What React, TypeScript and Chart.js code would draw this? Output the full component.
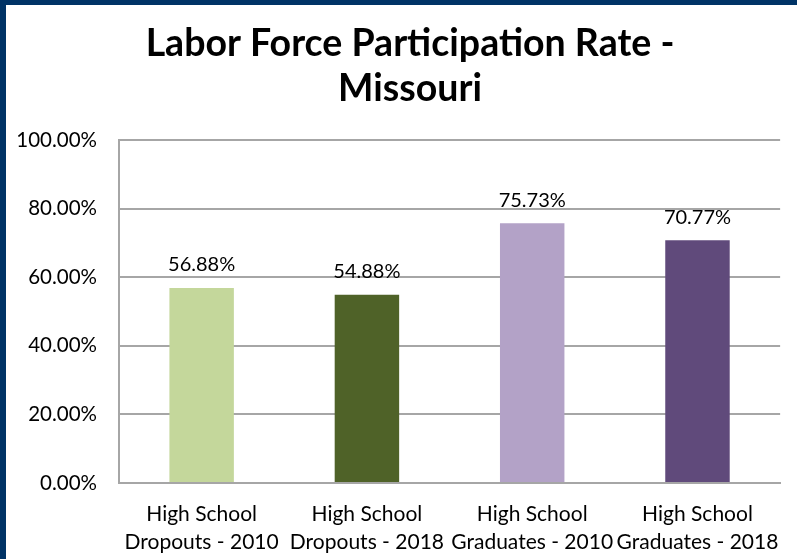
import React, { useEffect, useRef } from "react";
import { Chart, registerables } from "chart.js";

Chart.register(...registerables);

const categories: string[][] = [
  ["High School", "Dropouts - 2010"],
  ["High School", "Dropouts - 2018"],
  ["High School", "Graduates - 2010"],
  ["High School", "Graduates - 2018"],
];
const values: number[] = [56.88, 54.88, 75.73, 70.77];
const barColors: string[] = ["#C4D79B", "#4F6228", "#B3A2C7", "#604A7B"];
const titleLines: string[] = ["Labor Force Participation Rate -", "Missouri"];

const FONT = "Lato";

const valueLabels = {
  id: "valueLabels",
  afterDatasetsDraw(chart: any) {
    const ctx = chart.ctx;
    const meta = chart.getDatasetMeta(0);
    ctx.save();
    ctx.font = `20px ${FONT}`;
    ctx.fillStyle = "#000";
    ctx.textAlign = "center";
    ctx.textBaseline = "middle";
    meta.data.forEach((bar: any, i: number) => {
      ctx.fillText(values[i].toFixed(2) + "%", bar.x, bar.y - 23);
    });
    ctx.restore();
  },
};

const chartTitle = {
  id: "chartTitle",
  afterDraw(chart: any) {
    const ctx = chart.ctx;
    ctx.save();
    ctx.font = `bold 37.5px ${FONT}`;
    ctx.fillStyle = "#000";
    ctx.textAlign = "center";
    ctx.textBaseline = "middle";
    titleLines.forEach((line, i) => {
      ctx.fillText(line, 410, 44 + i * 45);
    });
    ctx.restore();
  },
};

export default function App() {
  const ref = useRef<HTMLCanvasElement>(null);
  useEffect(() => {
    const chart = new Chart(ref.current!, {
      type: "bar",
      data: {
        labels: categories,
        datasets: [
          {
            data: values,
            backgroundColor: barColors,
            barPercentage: 0.39,
            categoryPercentage: 1,
          },
        ],
      },
      options: {
        responsive: false,
        animation: false,
        layout: { padding: { left: 5, right: 5, top: 140, bottom: 0 } },
        plugins: {
          legend: { display: false },
          tooltip: { enabled: false },
          title: { display: false },
        },
        scales: {
          x: {
            grid: { display: false, drawTicks: false },
            border: { display: true, color: "#A6A6A6", width: 2 },
            ticks: {
              color: "#000",
              font: { family: FONT, size: 21, lineHeight: 1.3 },
              padding: 18,
              maxRotation: 0,
              autoSkip: false,
            },
            afterFit: (s: any) => {
              s.height = 76;
            },
          },
          y: {
            min: 0,
            max: 100,
            grid: { color: "#A6A6A6", lineWidth: 2, drawTicks: false },
            border: { display: true, color: "#A6A6A6", width: 2 },
            ticks: {
              stepSize: 20,
              color: "#000",
              font: { family: FONT, size: 20.5 },
              padding: 22,
              callback: (v: any) => Number(v).toFixed(2) + "%",
            },
            afterFit: (s: any) => {
              s.width = 114;
            },
          },
        },
      },
      plugins: [valueLabels, chartTitle],
    });
    return () => chart.destroy();
  }, []);

  return (
    <div style={{ position: "fixed", left: 0, top: 0, width: 797, height: 559, background: "#fff" }}>
      <canvas ref={ref} width={797} height={559} style={{ position: "absolute", left: 0, top: 0 }} />
      <div style={{ position: "absolute", left: 0, top: 0, width: 797, height: 5, background: "#003366" }} />
      <div style={{ position: "absolute", left: 0, top: 0, width: 6, height: 559, background: "#003366" }} />
    </div>
  );
}
